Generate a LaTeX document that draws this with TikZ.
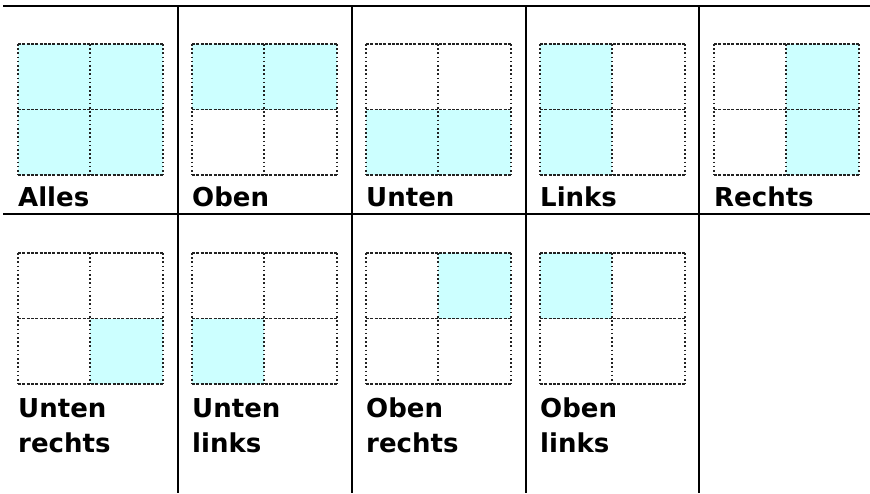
\documentclass[tikz,border=0pt]{standalone}
\usepackage{fontspec}
\setmainfont{DejaVu Sans}
\definecolor{cellcyan}{HTML}{CCFFFF}
\definecolor{gridink}{HTML}{222222}
\tikzset{
  rule/.style={line width=2.6pt, black},
  hdash/.style={draw=gridink, line width=1.5pt, dash pattern=on 3pt off 1.3pt},
  vdot/.style={draw=gridink, line width=1.8pt, dash pattern=on 1.6pt off 2.6pt},
  lab/.style={anchor=base west, inner sep=0pt, font=\bfseries\fontsize{26}{35}\selectfont, align=left},
}
\newcommand\quadgrid[6]{%
  \begin{scope}[shift={(#1,#2)}]
    \ifnum#3=1 \fill[cellcyan] (0,0) rectangle (72,65.5);\fi
    \ifnum#4=1 \fill[cellcyan] (72,0) rectangle (145,65.5);\fi
    \ifnum#5=1 \fill[cellcyan] (0,65.5) rectangle (72,131);\fi
    \ifnum#6=1 \fill[cellcyan] (72,65.5) rectangle (145,131);\fi
    \draw[hdash] (0,0) -- (145,0) (0,65.5) -- (145,65.5) (0,131) -- (145,131);
    \draw[vdot] (0,0) -- (0,131) (72,0) -- (72,131) (145,0) -- (145,131);
  \end{scope}}
\begin{document}
\begin{tikzpicture}[x=1pt,y=-1pt]
\useasboundingbox (0,0) rectangle (870,493);
% row 1 grids
\quadgrid{18}{44}{1}{1}{1}{1}
\quadgrid{192}{44}{1}{1}{0}{0}
\quadgrid{366}{44}{0}{0}{1}{1}
\quadgrid{540}{44}{1}{0}{1}{0}
\quadgrid{714}{44}{0}{1}{0}{1}
% row 2 grids
\quadgrid{18}{253}{0}{0}{0}{1}
\quadgrid{192}{253}{0}{0}{1}{0}
\quadgrid{366}{253}{0}{1}{0}{0}
\quadgrid{540}{253}{1}{0}{0}{0}
% labels
\node[lab] (alles)  at (18,206)  {Alles};
\node[lab] (oben)   at (192,206) {Oben};
\node[lab] (unten)  at (366,206) {Unten};
\node[lab] (links)  at (540,206) {Links};
\node[lab] (rechts) at (714,206) {Rechts};
\node[lab] (ur) at (18,452)  {Unten\\rechts};
\node[lab] (ul) at (192,452) {Unten\\links};
\node[lab] (or) at (366,452) {Oben\\rechts};
\node[lab] (ol) at (540,452) {Oben\\links};
% table rules
\draw[rule] (3,6) -- (870,6);
\draw[rule] (3,214) -- (870,214);
\foreach \xx in {178,352,526,699} \draw[rule] (\xx,6) -- (\xx,493);
\end{tikzpicture}
\end{document}
